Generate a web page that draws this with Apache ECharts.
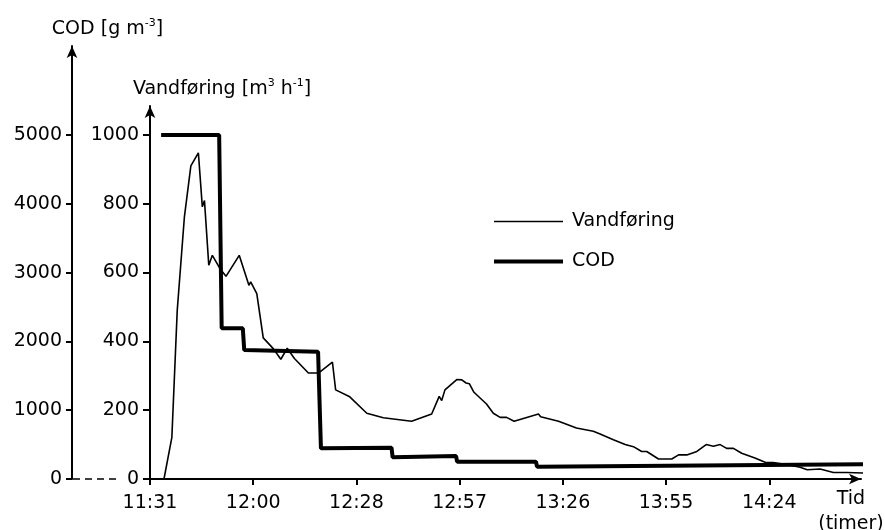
<!DOCTYPE html>
<html>
<head>
<meta charset="utf-8">
<script src="https://cdn.jsdelivr.net/npm/echarts@6/dist/echarts.min.js"></script>
<style>
html, body { margin: 0; background: #fff; }
#chart { width: 885px; height: 530px; }
</style>
</head>
<body>
<div id="chart"></div>
<script>
// time is minutes after midnight, ticks every 0.02 day (28.8 min)
var timeTicks = [691.2, 720, 748.8, 777.6, 806.4, 835.2, 864];
var timeLabels = ['11:31', '12:00', '12:28', '12:57', '13:26', '13:55', '14:24'];
var flowTicks = [0, 200, 400, 600, 800, 1000];
var codTicks = [0, 1000, 2000, 3000, 4000, 5000];

var flowTimes = [695.1, 697.3, 698.8, 700.8, 702.6, 704.7, 705.8, 706.4, 707.6, 708.6,
    710.7, 712.4, 716.1, 718.8, 719.3, 721.0, 722.8, 725.6, 727.7, 729.5,
    731.5, 735.4, 738.2, 742.1, 743.0, 746.8, 751.7, 756.3, 764.2, 769.8,
    771.9, 772.6, 773.5, 776.8, 778.2, 779.4, 780.3, 781.6, 785.1, 787.0,
    788.9, 790.7, 792.8, 799.6, 800.2, 805.2, 810.2, 814.9, 816.8, 820.5,
    823.8, 826.1, 828.4, 829.8, 833.1, 836.8, 838.7, 841.0, 843.8, 846.4,
    848.4, 850.3, 852.1, 854.0, 856.3, 860.0, 863.0, 865.1, 868.8, 872.6,
    874.6, 878.2, 881.9, 885.6, 891.4];
var flowValues = [0, 121, 490, 762, 910, 948, 791, 809, 621, 650,
    612, 589, 650, 563, 573, 539, 410, 379, 348, 380,
    350, 308, 308, 340, 259, 240, 191, 178, 168, 189,
    240, 228, 259, 289, 288, 279, 277, 252, 218, 191,
    179, 179, 168, 189, 181, 168, 148, 139, 131, 114,
    100, 94, 80, 80, 58, 58, 70, 70, 80, 100,
    95, 100, 89, 89, 75, 61, 48, 48, 42, 34,
    27, 29, 19, 19, 17];

var codTimes = [694.3, 710.5, 711.2, 717.1, 717.5, 738.1, 738.9, 758.6, 758.9, 776.6,
    776.9, 798.9, 799.2, 893.0];
var codValues = [5000, 5000, 2190, 2190, 1875, 1850, 446, 455, 315, 334,
    251, 251, 179, 214];

var FONT = 'DejaVu Sans';
var FS = 19;

function pairs(xs, ys) {
    return xs.map(function (x, i) { return [x, ys[i]]; });
}

function timeLabel(v) {
    for (var i = 0; i < timeTicks.length; i++) {
        if (Math.abs(v - timeTicks[i]) < 0.01) return timeLabels[i];
    }
    return '';
}

function plain(v) {
    return String(v);
}

var arrowLine = {
    lineStyle: { color: '#000', width: 2 },
    symbol: ['none', 'arrow'],
    symbolSize: [8, 12]
};

var chart = echarts.init(document.getElementById('chart'));

chart.setOption({
    animation: false,
    textStyle: { fontFamily: FONT, color: '#000' },
    grid: [
        { left: 150, right: 24, top: 46, bottom: 51, outerBoundsMode: 'none' },
        { left: 150, right: 24, top: 106, bottom: 51, outerBoundsMode: 'none' }
    ],
    legend: {
        orient: 'vertical',
        left: 494,
        top: 212,
        padding: 0,
        itemWidth: 69,
        itemHeight: 14,
        itemGap: 21,
        textStyle: { fontFamily: FONT, fontSize: FS, color: '#000', padding: [0, 0, 0, 4] },
        data: [
            { name: 'Vandføring', icon: 'path://M0,0H69V1.6H0Z' },
            { name: 'COD', icon: 'path://M0,0H69V4H0Z' }
        ]
    },
    xAxis: [
        {
            gridIndex: 0, type: 'value', min: 691.2, max: 889.6, show: false
        },
        {
            gridIndex: 1, type: 'value', min: 691.2, max: 889.6, interval: 28.8,
            axisLine: arrowLine,
            axisTick: { length: 6, lineStyle: { color: '#000', width: 2 }, customValues: timeTicks },
            axisLabel: {
                customValues: timeTicks, formatter: timeLabel,
                fontFamily: FONT, fontSize: FS, color: '#000', margin: 15
            },
            splitLine: { show: false },
            name: 'Tid\n(timer)',
            nameLocation: 'end',
            nameGap: -10,
            nameTextStyle: {
                fontFamily: FONT, fontSize: FS, color: '#000',
                align: 'center', verticalAlign: 'top', lineHeight: 25, padding: [8, 0, 0, 0]
            }
        }
    ],
    yAxis: [
        {
            gridIndex: 0, type: 'value', min: 0, max: 6294, position: 'left', offset: 78,
            axisLine: arrowLine,
            axisTick: { length: 6, lineStyle: { color: '#000', width: 2 }, customValues: codTicks },
            axisLabel: {
                customValues: codTicks, formatter: plain,
                fontFamily: FONT, fontSize: FS, color: '#000', margin: 10
            },
            splitLine: { show: false },
            name: '{t|COD [g m}{s|-3}{t|]}',
            nameLocation: 'end',
            nameGap: 6,
            nameTextStyle: {
                padding: [0, 0, 0, 71],
                rich: {
                    t: { fontFamily: FONT, fontSize: FS, color: '#000', lineHeight: 22 },
                    s: { fontFamily: FONT, fontSize: 11, color: '#000', verticalAlign: 'top', lineHeight: 14 }
                }
            }
        },
        {
            gridIndex: 1, type: 'value', min: 0, max: 1084,
            axisLine: arrowLine,
            axisTick: { length: 7, lineStyle: { color: '#000', width: 2 }, customValues: flowTicks },
            axisLabel: {
                customValues: flowTicks, formatter: plain,
                fontFamily: FONT, fontSize: FS, color: '#000', margin: 11
            },
            splitLine: { show: false },
            name: '{t|Vandføring [m}{s|3}{t| h}{s|-1}{t|]}',
            nameLocation: 'end',
            nameGap: 6,
            nameTextStyle: {
                padding: [0, 0, 0, 144],
                rich: {
                    t: { fontFamily: FONT, fontSize: FS, color: '#000', lineHeight: 22 },
                    s: { fontFamily: FONT, fontSize: 11, color: '#000', verticalAlign: 'top', lineHeight: 14 }
                }
            }
        }
    ],
    graphic: [
        {
            type: 'line',
            shape: { x1: 73, y1: 479, x2: 121, y2: 479 },
            style: { stroke: '#000', lineWidth: 1.5, lineDash: [7, 5] }
        }
    ],
    series: [
        {
            name: 'Vandføring', type: 'line', xAxisIndex: 1, yAxisIndex: 1,
            data: pairs(flowTimes, flowValues),
            symbol: 'none', clip: false,
            itemStyle: { color: '#000' },
            lineStyle: { color: '#000', width: 1.6 }
        },
        {
            name: 'COD', type: 'line', xAxisIndex: 0, yAxisIndex: 0,
            data: pairs(codTimes, codValues),
            symbol: 'none', clip: false,
            itemStyle: { color: '#000' },
            lineStyle: { color: '#000', width: 4 }
        }
    ]
});
</script>
</body>
</html>
